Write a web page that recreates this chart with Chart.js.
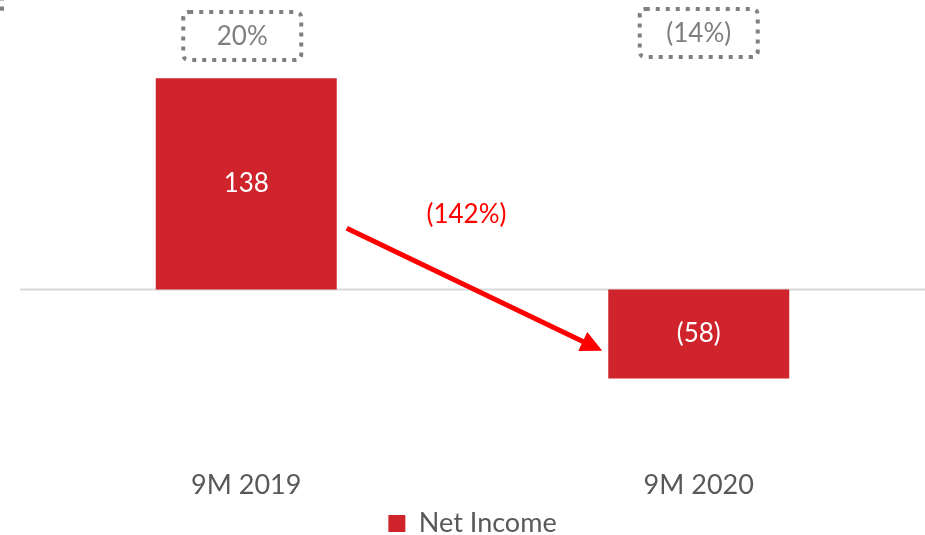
<!DOCTYPE html>
<html>
<head>
<meta charset="utf-8">
<script src="https://cdn.jsdelivr.net/npm/chart.js@4/dist/chart.umd.min.js"></script>
<style>
  html, body { margin: 0; padding: 0; background: #fff; }
  #wrap { width: 925px; height: 535px; }
</style>
</head>
<body>
<div id="wrap"><canvas id="niChart"></canvas></div>
<script>
// données
const categories = ['9M 2019', '9M 2020'];
const netIncome = [138, -58];
const margins = ['20%', '(14%)'];
const changeLabel = '(142%)';

const RED = '#CF242B';
const GREY_TXT = '#595959';
const FONT = 'Lato, "Open Sans", sans-serif';

function fmt(v) {
  return v < 0 ? '(' + Math.abs(v) + ')' : String(v);
}

function roundRect(ctx, x, y, w, h, r) {
  ctx.beginPath();
  ctx.moveTo(x + r, y);
  ctx.lineTo(x + w - r, y);
  ctx.quadraticCurveTo(x + w, y, x + w, y + r);
  ctx.lineTo(x + w, y + h - r);
  ctx.quadraticCurveTo(x + w, y + h, x + w - r, y + h);
  ctx.lineTo(x + r, y + h);
  ctx.quadraticCurveTo(x, y + h, x, y + h - r);
  ctx.lineTo(x, y + r);
  ctx.quadraticCurveTo(x, y, x + r, y);
  ctx.closePath();
}

// étiquettes, ligne zéro, encadrés et flèche
const extras = {
  id: 'extras',
  beforeDatasetsDraw(chart) {
    const { ctx, chartArea, scales } = chart;
    const y0 = scales.y.getPixelForValue(0);
    ctx.save();
    ctx.strokeStyle = '#D9D9D9';
    ctx.lineWidth = 2;
    ctx.beginPath();
    ctx.moveTo(chartArea.left, y0);
    ctx.lineTo(chartArea.right, y0);
    ctx.stroke();
    ctx.restore();
  },
  afterDatasetsDraw(chart) {
    const { ctx, scales } = chart;
    const meta = chart.getDatasetMeta(0);
    ctx.save();
    ctx.font = '26px ' + FONT;
    ctx.textAlign = 'center';
    ctx.textBaseline = 'middle';

    // valeurs dans les barres
    ctx.fillStyle = '#fff';
    meta.data.forEach((bar, i) => {
      ctx.fillText(fmt(netIncome[i]), bar.x, (bar.y + bar.base) / 2);
    });

    // encadrés pointillés (marges)
    ctx.strokeStyle = '#7F7F7F';
    ctx.lineWidth = 4;
    ctx.setLineDash([4, 6]);
    const boxY = [12, 9];
    margins.forEach((m, i) => {
      const cx = scales.x.getPixelForValue(i) - 4 + i * 4;
      roundRect(ctx, cx - 59, boxY[i], 118, 48, 6);
      ctx.stroke();
      ctx.fillStyle = '#7F7F7F';
      ctx.fillText(m, cx, boxY[i] + 25);
    });
    // bout d'encadré coupé en haut à gauche
    roundRect(ctx, -120, -40, 122, 56, 6);
    ctx.stroke();
    ctx.setLineDash([]);

    // flèche de variation
    const b0 = meta.data[0], b1 = meta.data[1];
    const x1 = b0.x + b0.width / 2 + 10, y1 = scales.y.getPixelForValue(40);
    const x2 = b1.x - b1.width / 2 - 6, y2 = scales.y.getPixelForValue(-40);
    const ang = Math.atan2(y2 - y1, x2 - x1);
    const head = 24;
    ctx.strokeStyle = '#FF0000';
    ctx.fillStyle = '#FF0000';
    ctx.lineWidth = 5;
    ctx.beginPath();
    ctx.moveTo(x1, y1);
    ctx.lineTo(x2 - head * Math.cos(ang) * 0.8, y2 - head * Math.sin(ang) * 0.8);
    ctx.stroke();
    ctx.beginPath();
    ctx.moveTo(x2, y2);
    ctx.lineTo(x2 - head * Math.cos(ang - 0.45), y2 - head * Math.sin(ang - 0.45));
    ctx.lineTo(x2 - head * Math.cos(ang + 0.45), y2 - head * Math.sin(ang + 0.45));
    ctx.closePath();
    ctx.fill();

    ctx.fillText(changeLabel, (x1 + x2) / 2 - 8, y1 - 14);
    ctx.restore();
  }
};

document.addEventListener('DOMContentLoaded', function () {
  const ctx = document.getElementById('niChart').getContext('2d');
  new Chart(ctx, {
    type: 'bar',
    data: {
      labels: categories,
      datasets: [{
        label: 'Net Income',
        data: netIncome,
        backgroundColor: RED,
        borderWidth: 0,
        barPercentage: 1,
        categoryPercentage: 0.4
      }]
    },
    options: {
      responsive: true,
      maintainAspectRatio: false,
      animation: false,
      layout: { padding: { left: 20, right: 0, top: 0, bottom: -12 } },
      plugins: {
        tooltip: { enabled: false },
        legend: {
          position: 'bottom',
          labels: {
            color: GREY_TXT,
            font: { family: FONT, size: 27 },
            boxWidth: 17,
            boxHeight: 17,
            padding: 0
          }
        }
      },
      scales: {
        x: {
          grid: { display: false, drawTicks: false },
          border: { display: false },
          ticks: { color: GREY_TXT, font: { family: FONT, size: 27 }, padding: 9 }
        },
        y: {
          display: false,
          min: -111,
          max: 189
        }
      }
    },
    plugins: [extras]
  });
});
</script>
</body>
</html>
